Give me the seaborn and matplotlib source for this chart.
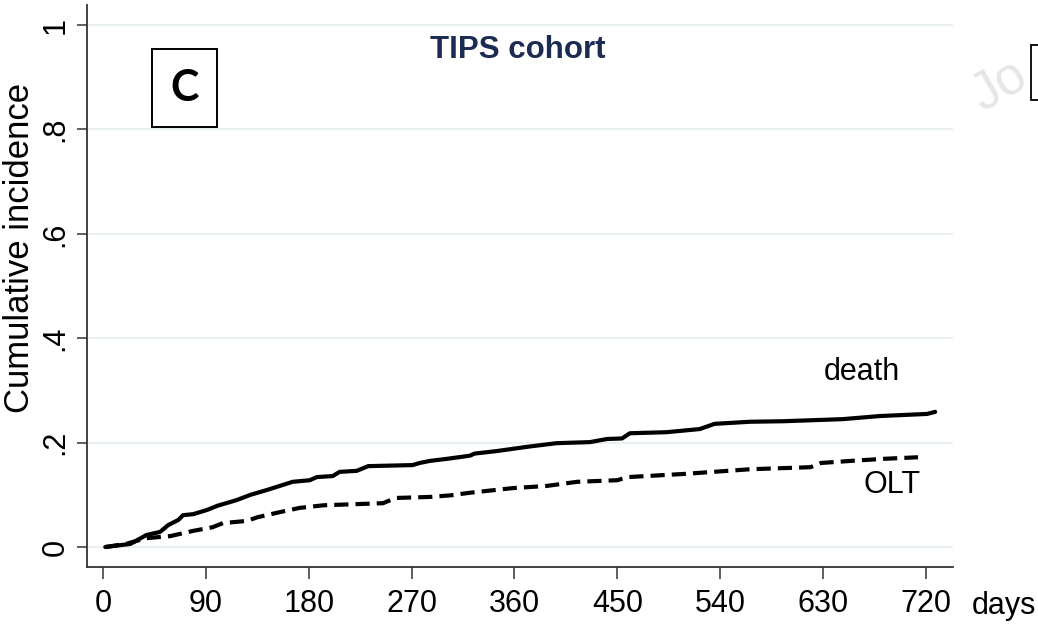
import matplotlib
matplotlib.use("Agg")
import matplotlib.pyplot as plt
from matplotlib.patches import Rectangle
import numpy as np
import pandas as pd
import seaborn as sns

# Cumulative incidence of death and liver transplantation (OLT), TIPS cohort
days_death = [2, 24, 38, 50, 57, 66, 70, 79, 91, 100, 117, 129, 143, 166, 181,
              187, 201, 207, 222, 232, 271, 277, 286, 301, 321, 325, 345, 371,
              397, 426, 441, 454, 461, 493, 522, 535, 566, 595, 647, 680, 721, 728]
cif_death = [0.0, 0.006, 0.023, 0.029, 0.042, 0.052, 0.061, 0.063, 0.071, 0.079,
             0.090, 0.100, 0.109, 0.125, 0.128, 0.134, 0.136, 0.144, 0.146, 0.155,
             0.157, 0.161, 0.165, 0.169, 0.175, 0.179, 0.184, 0.192, 0.199, 0.201,
             0.207, 0.208, 0.218, 0.220, 0.226, 0.236, 0.240, 0.241, 0.245, 0.251,
             0.255, 0.259]

days_olt = [2, 20, 38, 59, 79, 96, 105, 126, 135, 155, 172, 193, 245, 256, 286,
            304, 321, 359, 388, 415, 450, 459, 508, 566, 619, 628, 654, 683, 713]
cif_olt = [0.0, 0.006, 0.017, 0.021, 0.031, 0.038, 0.046, 0.050, 0.057, 0.067,
           0.075, 0.080, 0.084, 0.094, 0.096, 0.099, 0.104, 0.113, 0.117, 0.125,
           0.128, 0.134, 0.140, 0.149, 0.153, 0.161, 0.165, 0.169, 0.172]

x_ticks = [0, 90, 180, 270, 360, 450, 540, 630, 720]
y_ticks = [0, 0.2, 0.4, 0.6, 0.8, 1.0]
y_tick_labels = ["0", ".2", ".4", ".6", ".8", "1"]

df = pd.concat([
    pd.DataFrame({"day": days_death, "cif": cif_death, "outcome": "death"}),
    pd.DataFrame({"day": days_olt, "cif": cif_olt, "outcome": "OLT"}),
], ignore_index=True)

sns.set_theme(style="white")
plt.rcParams["font.family"] = ["Liberation Sans", "DejaVu Sans"]
plt.rcParams["text.color"] = "black"

fig = plt.figure(figsize=(10.38, 6.24), dpi=100)
ax = fig.add_axes([0.0838, 0.0913, 0.8343, 0.9006])

sns.lineplot(data=df, x="day", y="cif", style="outcome",
             dashes={"death": "", "OLT": (3.4, 1.7)},
             color="black", lw=3.0, legend=False, ax=ax, sort=False)

ax.set_xlim(-14, 743.6)
ax.set_ylim(-0.0383, 1.0383)

# horizontal grid
for yv in y_ticks:
    ax.axhline(yv, color="#e6eff2", lw=1.3, zorder=0)

ax.set_xticks(x_ticks)
ax.set_xticklabels([str(v) for v in x_ticks], fontsize=22)
ax.set_yticks(y_ticks)
ax.set_yticklabels(y_tick_labels, fontsize=22, rotation=90, va="center")
ax.tick_params(axis="x", length=8.6, width=1.1, color="#333333", pad=7.0,
               bottom=True, labelcolor="black")
ax.tick_params(axis="y", length=7.2, width=1.1, color="#333333", pad=4.5,
               left=True, labelcolor="black")

for side in ["top", "right"]:
    ax.spines[side].set_visible(False)
for side in ["left", "bottom"]:
    ax.spines[side].set_color("#333333")
    ax.spines[side].set_linewidth(1.3)

ax.set_xlabel("")
ax.set_ylabel("")
fig.text(36 / 1038, 1 - 248 / 624, "Cumulative incidence", rotation=90,
         fontsize=25, ha="right", va="center")
ax.text((1004 - 87) / 866, (567 - 606) / 562, "days", transform=ax.transAxes,
        fontsize=22, ha="center", va="center")

ax.text(0.497, 0.92, "TIPS cohort", transform=ax.transAxes, fontsize=22.5,
        fontweight="bold", color="#1c2b52", ha="center", va="center")

# curve labels
fig.text(862 / 1038, 1 - 372 / 624, "death", fontsize=22, ha="center", va="center")
fig.text(892 / 1038, 1 - 485 / 624, "OLT", fontsize=22, ha="center", va="center")

# panel letter
fig.patches.append(Rectangle((152 / 1038, 1 - 127 / 624), 65 / 1038, 78 / 624,
                             transform=fig.transFigure, fill=False,
                             edgecolor="black", lw=1.4))
fig.text(184.5 / 1038, 1 - 88 / 624, "C", fontsize=31, fontweight="bold",
         family=["Lato", "DejaVu Sans"], ha="center", va="center")

# neighbouring panel edge and watermark
fig.text(982 / 1038, 1 - 112 / 624, "Jo", fontsize=38,
         color="#e6e6e6", rotation=30, rotation_mode="anchor",
         ha="left", va="baseline", zorder=0)
fig.patches.append(Rectangle((1031 / 1038, 1 - 100 / 624), 0.05, 55 / 624,
                             transform=fig.transFigure, facecolor="white",
                             edgecolor="black", lw=1.3, clip_on=False, zorder=2))

fig.savefig("out.png", dpi=100)
